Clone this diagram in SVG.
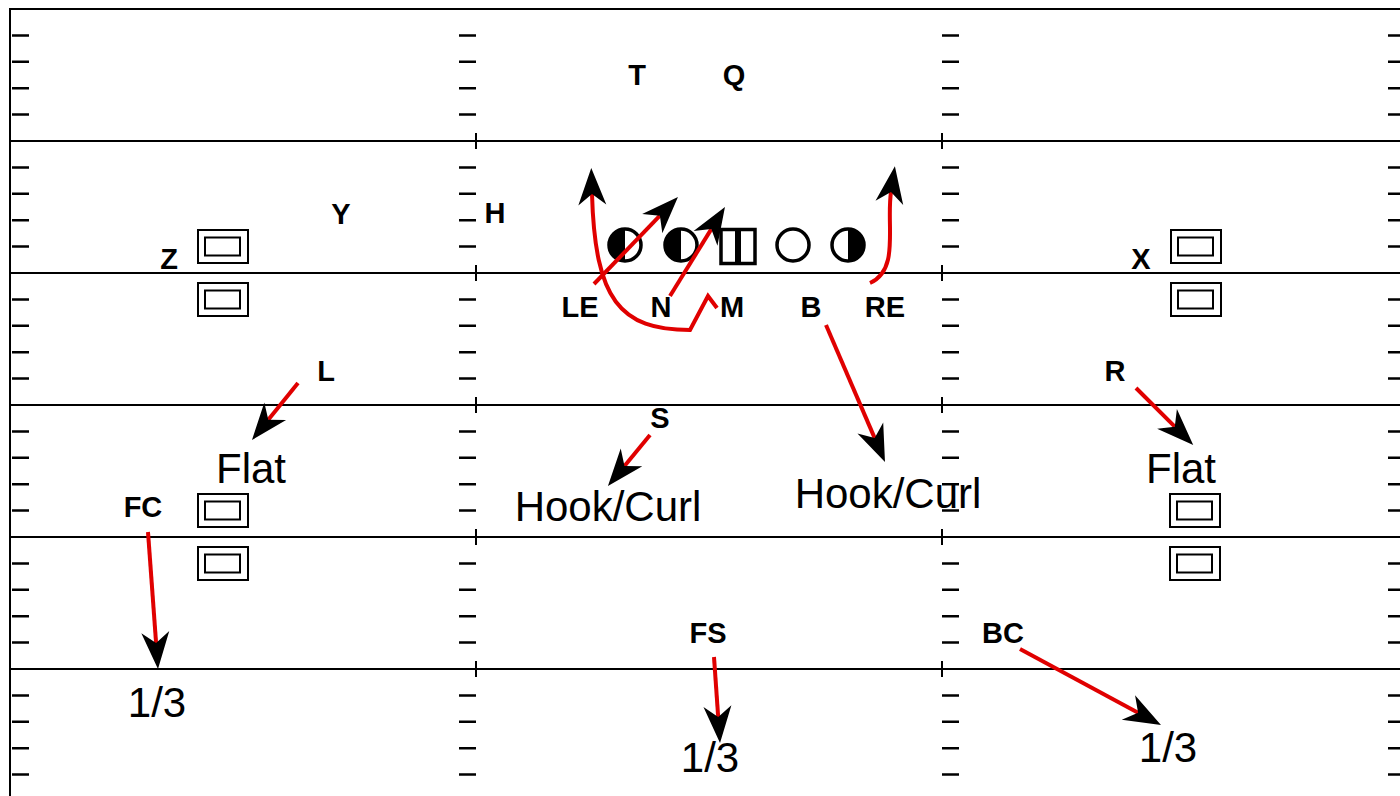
<svg xmlns="http://www.w3.org/2000/svg" xmlns:xlink="http://www.w3.org/1999/xlink" width="1400" height="796" viewBox="0 0 1400 796">
<style>
.field{stroke:#000;stroke-width:2;fill:none}
.tick{stroke:#000;stroke-width:2.5;fill:none}
.box{stroke:#000;stroke-width:2;fill:#fff}
.sym{stroke:#000;stroke-width:3.5;fill:#fff}
.lbl{font-family:"Liberation Sans",Arial,sans-serif;font-weight:bold;font-size:29px;fill:#000;text-anchor:middle}
.big{font-family:"Liberation Sans",Arial,sans-serif;font-size:42px;fill:#000;text-anchor:middle}
.route{stroke:#e00000;stroke-width:4;fill:none;marker-end:url(#ah)}
</style>
<defs>
<marker id="ah" markerUnits="userSpaceOnUse" viewBox="-40 -16 44 32" markerWidth="44" markerHeight="32" refX="-26" refY="0" orient="auto">
<path d="M0,0 L-37,-14 L-26,0 L-37,14 Z" fill="#000"/>
</marker>
<path id="tickcol" class="tick" d="M12,35.4h17M12,61.8h17M12,88.2h17M12,114.6h17M12,167.4h17M12,193.8h17M12,220.2h17M12,246.6h17M12,299.4h17M12,325.8h17M12,352.2h17M12,378.6h17M12,431.4h17M12,457.8h17M12,484.2h17M12,510.6h17M12,563.4h17M12,589.8h17M12,616.2h17M12,642.6h17M12,695.4h17M12,721.8h17M12,748.2h17M12,774.6h17"/>
<g id="dbox"><rect class="box" x="0" y="0" width="50" height="33"/><rect class="box" x="7" y="7.5" width="35" height="18"/></g>
</defs>

<g id="field">
<path class="field" d="M10,9V796M9,9H1400M10,141H1400M10,273H1400M10,405H1400M10,537H1400M10,669H1400"/>
<path class="field" d="M476,133v16M476,265v16M476,397v16M476,529v16M476,661v16M942,133v16M942,265v16M942,397v16M942,529v16M942,661v16"/>
<use xlink:href="#tickcol"/>
<use xlink:href="#tickcol" x="447"/>
<use xlink:href="#tickcol" x="930"/>
<use xlink:href="#tickcol" x="1376"/>
</g>

<g id="boxes">
<use xlink:href="#dbox" x="198" y="230"/>
<use xlink:href="#dbox" x="198" y="283"/>
<use xlink:href="#dbox" x="1171" y="230"/>
<use xlink:href="#dbox" x="1171" y="283"/>
<use xlink:href="#dbox" x="198" y="494"/>
<use xlink:href="#dbox" x="198" y="547"/>
<use xlink:href="#dbox" x="1170" y="494"/>
<use xlink:href="#dbox" x="1170" y="547"/>
</g>

<g id="offense">
<g id="o1"><circle class="sym" cx="625" cy="245" r="16"/><path d="M625,229 A16,16 0 0 0 625,261 Z" fill="#000"/></g>
<g id="o2"><circle class="sym" cx="681" cy="245" r="16"/><path d="M681,229 A16,16 0 0 0 681,261 Z" fill="#000"/></g>
<g id="o3"><rect class="sym" x="721" y="229.5" width="34" height="34"/><path d="M738,229.5v34" stroke="#000" stroke-width="6"/></g>
<g id="o4"><circle class="sym" cx="793" cy="245" r="16"/></g>
<g id="o5"><circle class="sym" cx="848" cy="245" r="16"/><path d="M848,229 A16,16 0 0 1 848,261 Z" fill="#000"/></g>
</g>

<g id="connectors">
<path class="route" d="M594,284 L659.9,215.7"/>
<path class="route" d="M670,296 L711.3,229.1"/>
<path class="route" d="M717,308 L708,296 L690,330 C620,330 595,300 592,194"/>
<path class="route" d="M870,283 C900,270 886,225 891,192"/>
<path class="route" d="M826,325 L874.7,438.1"/>
<path class="route" d="M298,383 L268.3,419.8"/>
<path class="route" d="M1136,388 L1174.8,426.7"/>
<path class="route" d="M650,435 L624.5,465.9"/>
<path class="route" d="M148,532 L156.1,643.1"/>
<path class="route" d="M714,657 L718.2,717.1"/>
<path class="route" d="M1020,649 L1138.1,712.7"/>
</g>

<g id="labels">
<g id="n-T"><text class="lbl" x="637" y="85">T</text></g>
<g id="n-Q"><text class="lbl" x="734" y="85">Q</text></g>
<g id="n-Y"><text class="lbl" x="341" y="224">Y</text></g>
<g id="n-H"><text class="lbl" x="495" y="223">H</text></g>
<g id="n-Z"><text class="lbl" x="169" y="269">Z</text></g>
<g id="n-X"><text class="lbl" x="1141" y="269">X</text></g>
<g id="n-LE"><text class="lbl" x="580" y="317">LE</text></g>
<g id="n-N"><text class="lbl" x="661" y="317">N</text></g>
<g id="n-M"><text class="lbl" x="732" y="317">M</text></g>
<g id="n-B"><text class="lbl" x="811" y="317">B</text></g>
<g id="n-RE"><text class="lbl" x="885" y="317">RE</text></g>
<g id="n-L"><text class="lbl" x="326" y="381">L</text></g>
<g id="n-R"><text class="lbl" x="1115" y="381">R</text></g>
<g id="n-S"><text class="lbl" x="660" y="428">S</text></g>
<g id="n-FC"><text class="lbl" x="143" y="517">FC</text></g>
<g id="n-FS"><text class="lbl" x="708" y="643">FS</text></g>
<g id="n-BC"><text class="lbl" x="1003" y="643">BC</text></g>
<g id="z-flat-l"><text class="big" x="251" y="483">Flat</text></g>
<g id="z-flat-r"><text class="big" x="1181" y="483">Flat</text></g>
<g id="z-hook-l"><text class="big" x="608" y="521">Hook/Curl</text></g>
<g id="z-hook-r"><text class="big" x="888" y="508">Hook/Curl</text></g>
<g id="z-third-l"><text class="big" x="157" y="717">1/3</text></g>
<g id="z-third-m"><text class="big" x="710" y="772">1/3</text></g>
<g id="z-third-r"><text class="big" x="1168" y="762">1/3</text></g>
</g>
</svg>
